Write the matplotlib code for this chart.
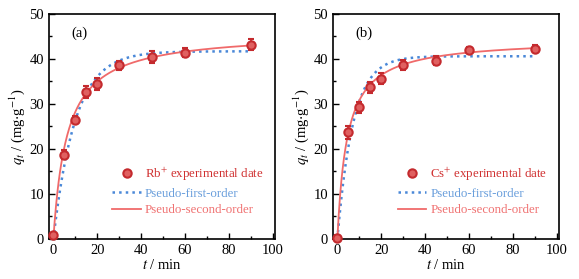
import numpy as np
import matplotlib.pyplot as plt
from matplotlib.lines import Line2D

plt.rcParams['font.family'] = ['Liberation Serif', 'DejaVu Serif']
plt.rcParams['mathtext.fontset'] = 'stix'

t = [0, 5, 10, 15, 20, 30, 45, 60, 90]

# Rb+ data
q_rb = [0.8, 18.7, 26.5, 32.7, 34.5, 38.6, 40.4, 41.4, 43.2]
err_rb = [0.5, 1.0, 0.8, 1.4, 1.3, 1.0, 1.3, 1.0, 1.3]
# Cs+ data
q_cs = [0.3, 23.7, 29.3, 33.7, 35.6, 38.7, 39.6, 42.0, 42.3]
err_cs = [0.5, 1.5, 1.2, 1.2, 1.2, 1.1, 1.0, 0.7, 0.8]

# fitted parameters (qe, k)
pfo_rb = (41.7, 0.10)
pso_rb = (46.0, 0.00346)
pfo_cs = (40.6, 0.14)
pso_cs = (44.5, 0.00506)

ions = ['Rb$^{+}$', 'Cs$^{+}$']
panels = ['(a)', '(b)']

c_pt = '#c42a2e'
c_pfo = '#4a88d8'
c_pso = '#f06a6a'

fig = plt.figure(figsize=(5.79, 2.79), dpi=100)
ax1 = fig.add_axes([0.0846, 0.1434, 0.3904, 0.8066])
ax2 = fig.add_axes([0.5751, 0.1434, 0.3904, 0.8066])

tt = np.linspace(0, 90, 300)
for ax, q, e, pfo, pso, ion, lab in zip([ax1, ax2], [q_rb, q_cs], [err_rb, err_cs],
                                       [pfo_rb, pfo_cs], [pso_rb, pso_cs], ions, panels):
    y1 = pfo[0] * (1 - np.exp(-pfo[1] * tt))
    y2 = pso[1] * pso[0] ** 2 * tt / (1 + pso[1] * pso[0] * tt)
    ax.errorbar(t, q, yerr=e, fmt='o', ms=6, mfc='#e06060', mec=c_pt, mew=1.5,
                ecolor=c_pt, elinewidth=1.2, capsize=2.5, capthick=1.2,
                clip_on=False, zorder=3)
    l1, = ax.plot(tt, y1, ':', color=c_pfo, lw=1.8, zorder=2)
    l2, = ax.plot(tt, y2, '-', color=c_pso, lw=1.3, zorder=2)
    pt = Line2D([], [], ls='none', marker='o', ms=6, mfc='#e06060', mec=c_pt, mew=1.5)
    ax.set_xlim(-2, 101)
    ax.set_ylim(0, 50)
    ax.set_xticks([0, 20, 40, 60, 80, 100])
    ax.set_xticks([10, 30, 50, 70, 90], minor=True)
    ax.set_yticks([0, 10, 20, 30, 40, 50])
    ax.set_yticks([5, 15, 25, 35, 45], minor=True)
    ax.tick_params(which='major', direction='in', length=4, width=1, labelsize=10.5)
    ax.tick_params(which='minor', direction='in', length=2, width=1)
    for s in ax.spines.values():
        s.set_linewidth(1.2)
    ax.set_xlabel('$t$ / min', fontsize=10.5, labelpad=1)
    ax.set_ylabel('$q_t$ / (mg$\\cdot$g$^{-1}$)', fontsize=10.5, labelpad=2)
    ax.text(0.1, 0.9, lab, transform=ax.transAxes, fontsize=10.5)
    leg = ax.legend([pt, l1, l2],
                    [ion + ' experimental date', 'Pseudo-first-order', 'Pseudo-second-order'],
                    loc='lower right', frameon=False, fontsize=9.3,
                    bbox_to_anchor=(1.0, 0.05), handlelength=2.2, handletextpad=0.3,
                    labelspacing=0.35)
    for txt, c in zip(leg.get_texts(), ['#d03030', '#6a9fdc', '#f07272']):
        txt.set_color(c)

fig.savefig('out.png', dpi=100)
